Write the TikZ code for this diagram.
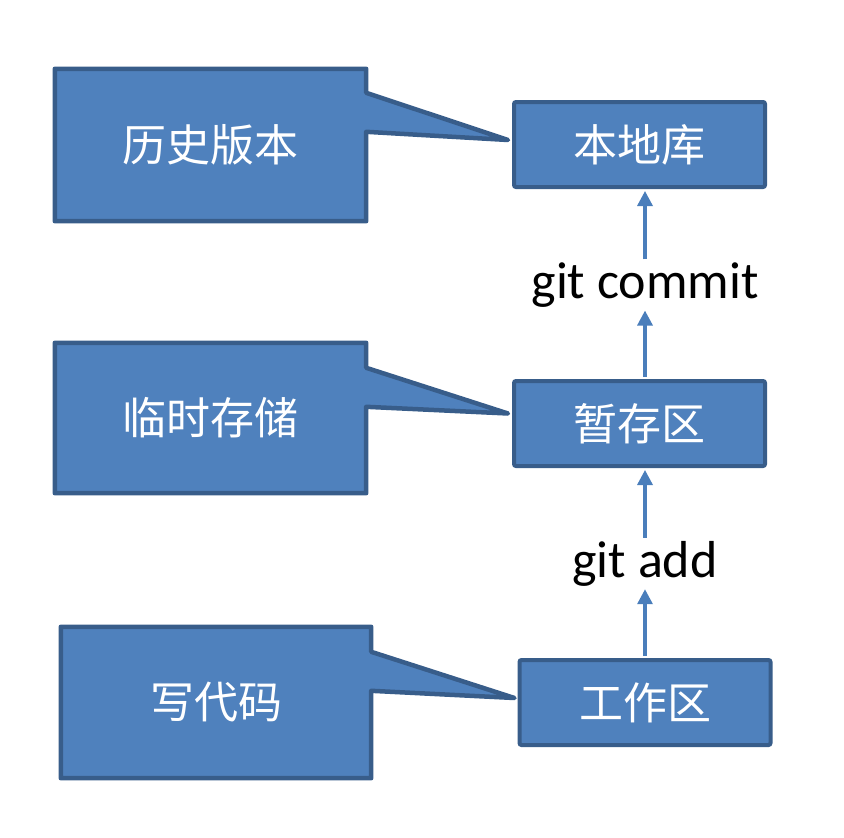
\documentclass[tikz,border=0pt]{standalone}
\usepackage{fontspec}
\setmainfont{Carlito}
\newfontfamily\cjk{Noto Sans CJK SC}
\usetikzlibrary{arrows.meta, calc, backgrounds}

\definecolor{boxblue}{HTML}{4F81BD}
\definecolor{boxline}{HTML}{385D8A}
\definecolor{flowblue}{HTML}{4A7EBB}

\tikzset{
    stagebox/.style={rectangle, rounded corners=2pt, fill=boxblue, draw=boxline,
        line width=4pt, minimum width=251pt, minimum height=85pt,
        text=white, font=\cjk\fontsize{44}{52}\selectfont},
    note/.style={rectangle, minimum width=311pt, minimum height=152pt,
        text=white, font=\cjk\fontsize{44}{52}\selectfont},
    notebody/.style={fill=boxblue, draw=boxline, line width=4.5pt, line join=round},
    cmd/.style={font=\fontsize{52}{60}\selectfont, inner sep=1pt},
    flow/.style={draw=flowblue, line width=3.3pt, shorten <=2pt, shorten >=2pt,
        -{Triangle[width=15pt, length=15pt]}},
}

\begin{document}
\begin{tikzpicture}[x=1pt, y=-1pt]
    \useasboundingbox (0,0) rectangle (844,838);

    % Stages
    \node[stagebox] (repo) at (639.5, 144.5) {本地库};
    \node[stagebox] (stage) at (639.5, 423.5) {暂存区};
    \node[stagebox] (work) at (645, 702.5) {工作区};

    % Commands
    \node[cmd] (commit) at (645, 285) {git commit};
    \node[cmd] (add) at (645, 563.5) {git add};

    \draw[flow] (work.north) -- (add.south);
    \draw[flow] (add.north) -- (add.north |- stage.south);
    \draw[flow] (commit |- stage.north) -- (commit.south);
    \draw[flow] (commit.north) -- (commit |- repo.south);

    % Notes
    \node[note] (hist) at (210.5, 145) {历史版本};
    \node[note, minimum height=150pt] (temp) at (210.5, 418) {临时存储};
    \node[note, minimum width=310pt, minimum height=151pt] (code) at (216, 702.5) {写代码};

    \begin{scope}[on background layer]
        \draw[notebody] (hist.north west) -- (hist.north east)
            -- ($(hist.north east)+(0,24)$) -- ($(repo.west)+(-4,-4.5)$)
            -- ($(hist.north east)+(0,63)$) -- (hist.south east)
            -- (hist.south west) -- cycle;
        \draw[notebody] (temp.north west) -- (temp.north east)
            -- ($(temp.north east)+(0,25)$) -- ($(stage.west)+(-4,-10)$)
            -- ($(temp.north east)+(0,64)$) -- (temp.south east)
            -- (temp.south west) -- cycle;
        \draw[notebody] (code.north west) -- (code.north east)
            -- ($(code.north east)+(0,25)$) -- ($(work.west)+(-3,-4.5)$)
            -- ($(code.north east)+(0,64)$) -- (code.south east)
            -- (code.south west) -- cycle;
    \end{scope}
\end{tikzpicture}
\end{document}
